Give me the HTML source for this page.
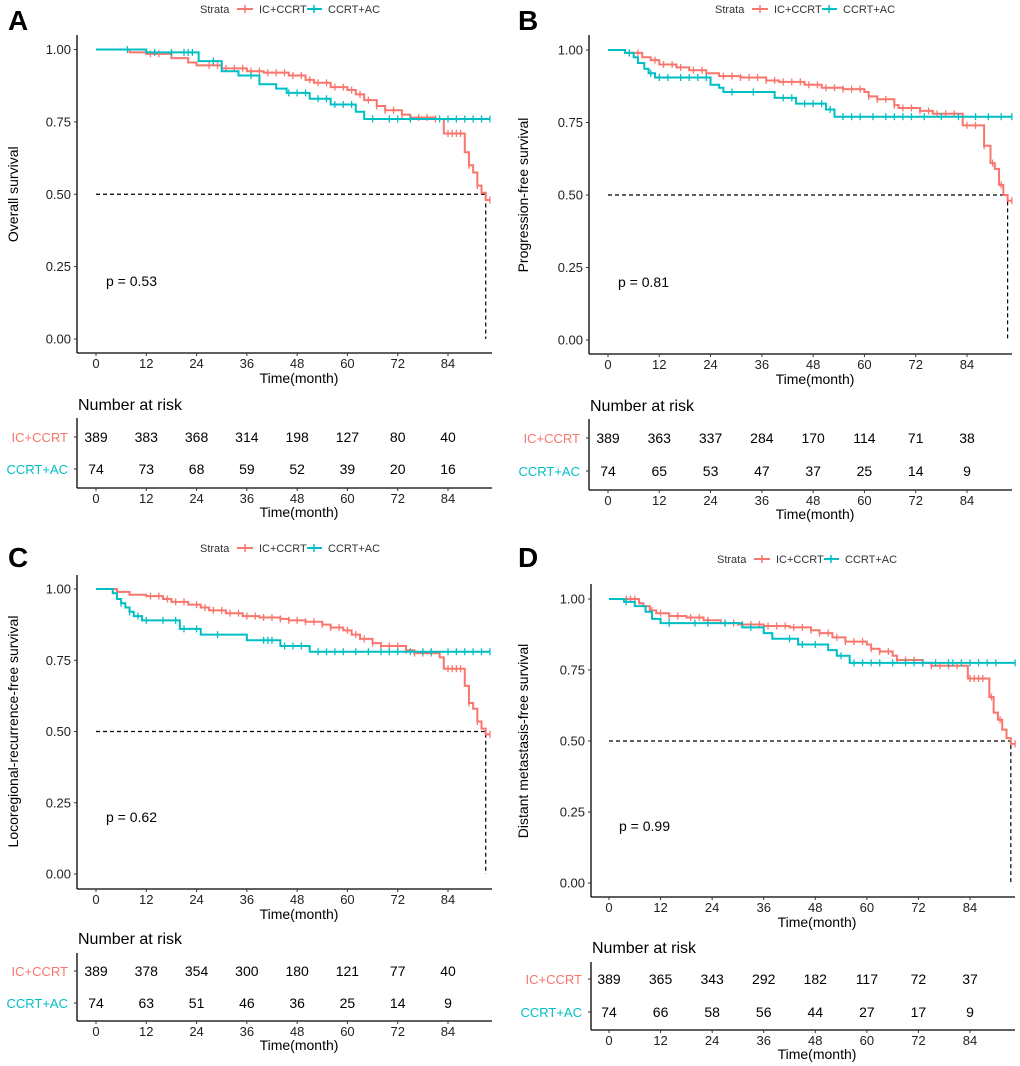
<!DOCTYPE html>
<html><head><meta charset="utf-8"><style>
html,body{margin:0;padding:0;background:#fff;}
svg{display:block;font-family:"Liberation Sans",Arial,sans-serif;}
</style></head><body>
<svg id="fig" width="1020" height="1066" viewBox="0 0 1020 1066" xmlns="http://www.w3.org/2000/svg"></svg>
<script>
const xTicks=[0,12,24,36,48,60,72,84];
const yTicks=[0,0.25,0.5,0.75,1];
const yTickLabels=["0.00","0.25","0.50","0.75","1.00"];
const groups=["IC+CCRT","CCRT+AC"];

const A_red_t=[0,8,12,18,22,24,30,36,40,46,50,52,56,60,62,64,67,69,73,75,81,83,88,89,90,91,92,93];
const A_red_s=[1,0.99,0.985,0.97,0.955,0.945,0.935,0.925,0.92,0.91,0.895,0.885,0.87,0.86,0.845,0.825,0.805,0.79,0.775,0.765,0.76,0.71,0.645,0.6,0.575,0.53,0.505,0.48];
const A_red_c=[13,15,27,29,31,33,35,37,39,41,43,45,47,49,51,53,55,57,59,61,63,65,67,69,71,73,75,77,79,81,84,85,86,87,89,91,94];
const A_teal_t=[0,12,24.5,30,34,39,43,45.5,51,56,62,64];
const A_teal_s=[1,0.99,0.96,0.925,0.91,0.88,0.865,0.85,0.83,0.81,0.785,0.76];
const A_teal_c=[7.5,14,18,21,22,23,28,37,46,48,50,53,55,57,59,61,66,70,72,75,82,84,86,88,90,92,94];
const A_risk_red=[389,383,368,314,198,127,80,40];
const A_risk_teal=[74,73,68,59,52,39,20,16];

const B_red_t=[0,4,8,10,12,16,19,23,26,31,37,40,46,50,55,60,61,63,67,68,73,76,83,88,89.5,90.5,91.5,92.5,93.5];
const B_red_s=[1,0.99,0.975,0.965,0.95,0.94,0.93,0.92,0.91,0.905,0.895,0.89,0.88,0.87,0.865,0.855,0.84,0.83,0.81,0.8,0.79,0.78,0.74,0.67,0.61,0.59,0.535,0.5,0.48];
const B_red_c=[5,7,11,13,15,17,20,22,27,29,31,33,35,37,39,41,43,45,47,49,51,53,55,57,59,61,63,65,67,69,71,73,75,77,79,81,84,86,88,90,92,94.5];
const B_teal_t=[0,4,6,7,8.5,9.5,11,24,26,27,39,44,51,53];
const B_teal_s=[1,0.99,0.975,0.955,0.935,0.92,0.905,0.88,0.87,0.855,0.835,0.815,0.795,0.77];
const B_teal_c=[5,10,12,14,17,19,21,23,29,34,41,43,46,48,50,52,55,57,59,62,65,67,69,71,74,78,82,86,89,92,94.5];
const B_risk_red=[389,363,337,284,170,114,71,38];
const B_risk_teal=[74,65,53,47,37,25,14,9];

const C_red_t=[0,5,8,12,16,18,22,25,27,31,35,39,44,46,50,54,56,59,61,63,66,68,74,76,82,83,88,89,90,91,92,93];
const C_red_s=[1,0.99,0.98,0.975,0.965,0.955,0.945,0.935,0.925,0.915,0.905,0.9,0.895,0.89,0.885,0.875,0.865,0.855,0.84,0.825,0.81,0.8,0.785,0.775,0.76,0.72,0.66,0.6,0.58,0.535,0.51,0.49];
const C_red_c=[5,13,15,17,19,21,24,26,28,30,32,34,36,38,40,42,44,46,48,50,52,54,56,58,60,62,64,66,68,70,72,74,76,78,80,84,85,86,87,89,91,94];
const C_teal_t=[0,4,5,6,7,8,9,11,20,25,36,44,51];
const C_teal_s=[1,0.985,0.965,0.95,0.935,0.92,0.905,0.89,0.86,0.84,0.82,0.8,0.78];
const C_teal_c=[6,8,10,12,16,19,21,24,29,40,41,42,45,47,49,53,55,57,59,62,65,68,70,72,75,78,80,84,86,88,90,92,94];
const C_risk_red=[389,378,354,300,180,121,77,40];
const C_risk_teal=[74,63,51,46,36,25,14,9];

const D_red_t=[0,7,8,9.5,11,14,18,22,26,30,36,42,47,49,52,55,60,61,63,66,67,73,75,83.5,88.5,89.5,90.5,91.5,92.5,93.5];
const D_red_s=[1,0.985,0.975,0.96,0.95,0.94,0.935,0.925,0.915,0.91,0.905,0.9,0.89,0.88,0.865,0.85,0.84,0.825,0.815,0.8,0.785,0.775,0.765,0.72,0.655,0.6,0.575,0.54,0.51,0.49];
const D_red_c=[4,5,6,10,12,14,16,19,21,23,27,29,31,33,35,37,39,41,43,45,47,49,51,53,55,57,59,61,63,65,67,69,71,73,75,77,79,81,84,85,86,87,89,91,94.5];
const D_teal_t=[0,3.5,6,8.5,10,12,31,36,38,44,51,53,56];
const D_teal_s=[1,0.99,0.975,0.955,0.93,0.915,0.9,0.88,0.86,0.84,0.82,0.8,0.775];
const D_teal_c=[4,14,20,23,27,33,42,45,48,54,57,59,61,63,66,69,71,73,76,79,80,82,84,86,88,90,94.5];
const D_risk_red=[389,365,343,292,182,117,72,37];
const D_risk_teal=[74,66,58,56,44,27,17,9];

const pValues=["p = 0.53","p = 0.81","p = 0.62","p = 0.99"];
const yTitles=["Overall survival","Progression-free survival","Locoregional-recurrence-free survival","Distant metastasis-free survival"];
const panelLetters=["A","B","C","D"];
const medianTimes=[93,93.5,93,93.5];
const endTimes=[94,94.5,94,94.5];

const RED="#F8766D",TEAL="#00BFC4";
const NS="http://www.w3.org/2000/svg";
const svg=document.getElementById("fig");
function el(tag,attrs,parent,txt){const e=document.createElementNS(NS,tag);for(const k in attrs)e.setAttribute(k,attrs[k]);if(txt!==undefined)e.textContent=txt;(parent||svg).appendChild(e);return e;}

const geoms=[
 {ax:77,x0:96,x84:448,y1:49.5,y0:339,axB:353,axR:492,top:35,legY:9,legX:200,letY:20,riskT:404,r1:437,r2:469,rAx:488,tabTop:418,padLeft:0},
 {ax:589,x0:608,x84:967,y1:50,y0:340,axB:354,axR:1012,top:35,legY:9,legX:715,letY:20,riskT:405,r1:438,r2:471,rAx:490,tabTop:419,padLeft:510},
 {ax:77,x0:96,x84:448,y1:589,y0:874,axB:889,axR:492,top:575,legY:548,legX:200,letY:557,riskT:938,r1:971,r2:1003,rAx:1021,tabTop:953,padLeft:0},
 {ax:591,x0:609,x84:970,y1:599,y0:883,axB:897,axR:1015,top:584,legY:559,legX:717,letY:557,riskT:947,r1:979,r2:1012,rAx:1030,tabTop:962,padLeft:510}
];
const data=[
 [A_red_t,A_red_s,A_red_c,A_teal_t,A_teal_s,A_teal_c,A_risk_red,A_risk_teal],
 [B_red_t,B_red_s,B_red_c,B_teal_t,B_teal_s,B_teal_c,B_risk_red,B_risk_teal],
 [C_red_t,C_red_s,C_red_c,C_teal_t,C_teal_s,C_teal_c,C_risk_red,C_risk_teal],
 [D_red_t,D_red_s,D_red_c,D_teal_t,D_teal_s,D_teal_c,D_risk_red,D_risk_teal]
];

function stepVal(ts,ss,t){let v=ss[0];for(let i=0;i<ts.length;i++){if(ts[i]<=t)v=ss[i];}return v;}

geoms.forEach((g,pi)=>{
 const d=data[pi];
 const X=t=>g.x0+(g.x84-g.x0)*t/84;
 const Y=s=>g.y0+(g.y1-g.y0)*s;
 const pg=el("g",{});
 
 
 const let_=el("text",{x:g.padLeft+8,y:g.letY+10,"font-size":28,"font-weight":"bold",fill:"#000"},pg,panelLetters[pi]);
 
 
 const lg=el("g",{},pg);
 
 
 const lx=g.legX,ly=g.legY;
 el("text",{x:lx,y:ly+4,"font-size":11,fill:"#333"},lg,"Strata");
 el("line",{x1:lx+37,x2:lx+53,y1:ly,y2:ly,stroke:RED,"stroke-width":2},lg);
 el("line",{x1:lx+45,x2:lx+45,y1:ly-4,y2:ly+4,stroke:RED,"stroke-width":1.5},lg);
 el("text",{x:lx+59,y:ly+4,"font-size":11,fill:"#333"},lg,groups[0]);
 el("line",{x1:lx+107,x2:lx+122,y1:ly,y2:ly,stroke:TEAL,"stroke-width":2},lg);
 el("line",{x1:lx+114,x2:lx+114,y1:ly-4,y2:ly+4,stroke:TEAL,"stroke-width":1.5},lg);
 el("text",{x:lx+128,y:ly+4,"font-size":11,fill:"#333"},lg,groups[1]);
 const ya=el("line",{x1:g.ax,x2:g.ax,y1:g.top,y2:g.axB,stroke:"#000","stroke-width":1.3},pg);
 
 
 const xa=el("line",{x1:g.ax,x2:g.axR,y1:g.axB,y2:g.axB,stroke:"#000","stroke-width":1.3},pg);
 
 
 yTicks.forEach((v,i)=>{
  el("line",{x1:g.ax-3,x2:g.ax,y1:Y(v),y2:Y(v),stroke:"#333"},pg);
  const t=el("text",{x:g.ax-6,y:Y(v)+4.5,"font-size":13,"text-anchor":"end",fill:"#222"},pg,yTickLabels[i]);
  
  
 });
 xTicks.forEach(v=>{
  el("line",{x1:X(v),x2:X(v),y1:g.axB,y2:g.axB+3,stroke:"#333"},pg);
  const t=el("text",{x:X(v),y:g.axB+15,"font-size":13,"text-anchor":"middle",fill:"#222"},pg,String(v));
  
  
 });
 const xt=el("text",{x:(g.x0+g.axR)/2+5,y:g.axB+30,"font-size":14,"text-anchor":"middle",fill:"#000"},pg,"Time(month)");
 
 
 const yc=(g.y1+g.y0)/2;
 const ytl=el("text",{x:0,y:0,"font-size":14,"text-anchor":"middle",fill:"#000",transform:`translate(${g.padLeft+18},${yc}) rotate(-90)`},pg,yTitles[pi]);
 
 
 const med=medianTimes[pi];
 el("path",{d:`M${X(0)},${Y(0.5)}H${X(med)}V${Y(0)}`,fill:"none",stroke:"#000","stroke-width":1.2,"stroke-dasharray":"4,3"},pg);
 [[d[0],d[1],d[2],RED,"curve-ic-ccrt"],[d[3],d[4],d[5],TEAL,"curve-ccrt-ac"]].forEach(([ts,ss,cs,col,nm])=>{
  let p=`M${X(ts[0])},${Y(ss[0])}`;
  for(let i=1;i<ts.length;i++){p+=`H${X(ts[i])}V${Y(ss[i])}`;}
  p+=`H${X(endTimes[pi])}`;
  const c=el("path",{d:p,fill:"none",stroke:col,"stroke-width":2},pg);
  
  
  cs.forEach(t=>{
   const y=Y(stepVal(ts,ss,t));
   const m=el("line",{x1:X(t),x2:X(t),y1:y-3.5,y2:y+3.5,stroke:col,"stroke-width":1.3},pg);
   
   
  });
 });
 const pv=el("text",{x:X(0)+10,y:Y(0.2)+5,"font-size":14,fill:"#000"},pg,pValues[pi]);
 
 
 const rt=el("text",{x:g.ax+1,y:g.riskT+6,"font-size":16,fill:"#000"},pg,"Number at risk");
 
 
 el("line",{x1:g.ax,x2:g.ax,y1:g.tabTop,y2:g.rAx,stroke:"#000","stroke-width":1.3},pg);
 el("line",{x1:g.ax,x2:g.axR,y1:g.rAx,y2:g.rAx,stroke:"#000","stroke-width":1.3},pg);
 [[g.r1,d[6],RED,groups[0]],[g.r2,d[7],TEAL,groups[1]]].forEach(([ry,vals,col,name])=>{
  el("line",{x1:g.ax-3,x2:g.ax,y1:ry,y2:ry,stroke:"#333"},pg);
  const lb=el("text",{x:g.ax-9,y:ry+5,"font-size":13,"text-anchor":"end",fill:col},pg,name);
  
  
  vals.forEach((v,i)=>{
   const t=el("text",{x:X(xTicks[i]),y:ry+5,"font-size":14,"text-anchor":"middle",fill:"#000"},pg,String(v));
   
   
  });
 });
 xTicks.forEach(v=>{
  el("line",{x1:X(v),x2:X(v),y1:g.rAx,y2:g.rAx+3,stroke:"#333"},pg);
  el("text",{x:X(v),y:g.rAx+15,"font-size":13,"text-anchor":"middle",fill:"#222"},pg,String(v));
 });
 const xt2=el("text",{x:(g.x0+g.axR)/2+5,y:g.rAx+29,"font-size":14,"text-anchor":"middle",fill:"#000"},pg,"Time(month)");
 
 
});
</script>
</body></html>
